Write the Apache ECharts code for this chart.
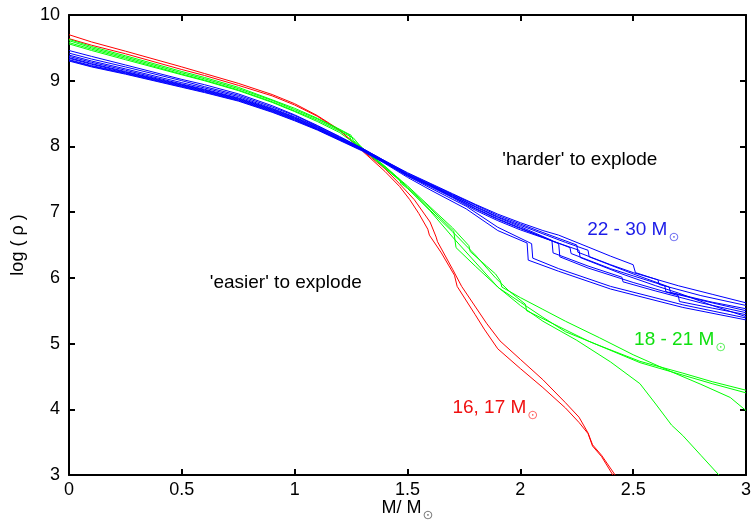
<!DOCTYPE html>
<html><head><meta charset="utf-8">
<script src="https://cdn.jsdelivr.net/npm/echarts@6/dist/echarts.min.js"></script>
<style>html,body{margin:0;padding:0;background:#fff}#c{width:754px;height:522px}</style>
</head><body><div id="c"></div>
<script>
// ---- data (M / Msun , log rho) ----
const red16 = [[0,9.70],[0.1,9.59],[0.25,9.45],[0.5,9.21],[0.6,9.11],[0.75,8.96],[0.9,8.79],[1.0,8.65],[1.1,8.47],[1.2,8.25],[1.3,7.93],[1.4,7.62],[1.465,7.39],[1.51,7.19],[1.55,6.98],[1.59,6.74],[1.597,6.65],[1.65,6.38],[1.708,6.04],[1.72,5.87],[1.8,5.44],[1.84,5.22],[1.9,4.92],[2.0,4.62],[2.1,4.33],[2.2,4.02],[2.26,3.80],[2.3,3.63],[2.32,3.44],[2.36,3.28],[2.41,3.0]];
const red17 = [[0,9.64],[0.1,9.54],[0.25,9.41],[0.5,9.17],[0.6,9.08],[0.75,8.93],[0.9,8.77],[1.0,8.63],[1.1,8.46],[1.2,8.24],[1.3,7.94],[1.4,7.66],[1.465,7.43],[1.53,7.19],[1.6,6.85],[1.627,6.62],[1.633,6.55],[1.70,6.13],[1.74,5.87],[1.85,5.31],[1.91,5.04],[2.0,4.76],[2.1,4.45],[2.2,4.10],[2.26,3.88],[2.3,3.64],[2.32,3.46],[2.36,3.30],[2.42,3.0]];

const green18 = [[0,9.56],[0.1,9.46],[0.25,9.32],[0.5,9.09],[0.6,9.00],[0.75,8.85],[0.9,8.67],[1.0,8.53],[1.1,8.38],[1.2,8.21],[1.3,7.96],[1.4,7.67],[1.465,7.48],[1.5,7.37],[1.6,7.02],[1.7,6.62],[1.8,6.24],[1.9,5.86],[2.0,5.58],[2.1,5.34],[2.25,5.05],[2.4,4.72],[2.53,4.39],[2.6,4.08],[2.67,3.76],[2.72,3.60],[2.8,3.30],[2.88,3.0]];
const green19 = [[0,9.63],[0.1,9.52],[0.25,9.38],[0.5,9.14],[0.6,9.05],[0.75,8.90],[0.9,8.71],[1.0,8.58],[1.1,8.43],[1.2,8.26],[1.25,8.17],[1.26,8.09],[1.3,7.98],[1.4,7.69],[1.465,7.50],[1.5,7.40],[1.6,7.08],[1.7,6.76],[1.772,6.49],[1.778,6.40],[1.85,6.18],[1.89,6.06],[1.912,5.95],[1.918,5.86],[2.0,5.70],[2.1,5.52],[2.2,5.34],[2.35,5.09],[2.5,4.83],[2.67,4.57],[2.8,4.38],[2.93,4.18],[3.0,3.98]];
const green20 = [[0,9.61],[0.1,9.50],[0.25,9.36],[0.5,9.12],[0.6,9.03],[0.75,8.88],[0.9,8.70],[1.0,8.56],[1.1,8.42],[1.2,8.25],[1.24,8.18],[1.25,8.10],[1.3,7.97],[1.4,7.68],[1.465,7.49],[1.5,7.38],[1.6,7.06],[1.705,6.71],[1.715,6.46],[1.8,6.18],[1.907,5.84],[2.0,5.63],[2.1,5.40],[2.2,5.18],[2.35,4.97],[2.53,4.73],[2.72,4.55],[2.85,4.42],[3.0,4.29]];
const green21 = [[0,9.58],[0.1,9.48],[0.25,9.34],[0.5,9.10],[0.6,9.01],[0.75,8.86],[0.9,8.68],[1.0,8.54],[1.1,8.40],[1.2,8.23],[1.26,8.13],[1.3,7.97],[1.4,7.70],[1.465,7.50],[1.47,7.44],[1.5,7.36],[1.6,7.03],[1.7,6.70],[1.8,6.35],[1.89,6.00],[1.95,5.80],[2.022,5.60],[2.028,5.50],[2.17,5.26],[2.3,5.04],[2.53,4.71],[2.72,4.52],[2.85,4.39],[3.0,4.25]];

const blue22 = [[0,9.46],[0.1,9.37],[0.25,9.24],[0.5,9.02],[0.6,8.94],[0.75,8.80],[0.9,8.62],[1.0,8.48],[1.1,8.32],[1.2,8.15],[1.3,7.97],[1.4,7.78],[1.5,7.60],[1.6,7.44],[1.7,7.28],[1.8,7.12],[1.9,6.97],[2.0,6.84],[2.1,6.72],[2.17,6.65],[2.3,6.47],[2.4,6.33],[2.5,6.20],[2.51,6.08],[2.6,5.98],[2.7,5.88],[2.85,5.75],[3.0,5.62]];
const blue23 = [[0,9.42],[0.1,9.33],[0.25,9.21],[0.5,9.00],[0.6,8.91],[0.75,8.78],[0.9,8.60],[1.0,8.47],[1.1,8.31],[1.2,8.14],[1.3,7.97],[1.4,7.78],[1.5,7.59],[1.6,7.43],[1.7,7.27],[1.8,7.11],[1.9,6.95],[2.0,6.82],[2.1,6.69],[2.25,6.50],[2.255,6.39],[2.4,6.20],[2.5,6.08],[2.61,5.97],[2.615,5.90],[2.8,5.73],[3.0,5.58]];
const blue24 = [[0,9.39],[0.1,9.30],[0.25,9.18],[0.5,8.97],[0.6,8.89],[0.75,8.76],[0.9,8.58],[1.0,8.45],[1.1,8.30],[1.2,8.13],[1.3,7.96],[1.4,7.77],[1.5,7.58],[1.6,7.42],[1.7,7.26],[1.8,7.09],[1.9,6.93],[2.0,6.80],[2.1,6.67],[2.2,6.54],[2.30,6.42],[2.305,6.32],[2.5,6.06],[2.66,5.86],[2.665,5.78],[2.85,5.63],[3.0,5.53]];
const blue25 = [[0,9.37],[0.1,9.28],[0.25,9.16],[0.5,8.95],[0.6,8.87],[0.75,8.74],[0.9,8.57],[1.0,8.44],[1.1,8.29],[1.2,8.12],[1.3,7.96],[1.4,7.77],[1.5,7.57],[1.6,7.41],[1.7,7.25],[1.8,7.08],[1.9,6.92],[2.0,6.78],[2.14,6.57],[2.145,6.38],[2.3,6.18],[2.45,6.01],[2.455,5.94],[2.6,5.80],[2.8,5.62],[3.0,5.47]];
const blue26 = [[0,9.35],[0.1,9.26],[0.25,9.14],[0.5,8.94],[0.6,8.86],[0.75,8.73],[0.9,8.56],[1.0,8.43],[1.1,8.28],[1.2,8.12],[1.3,7.95],[1.4,7.76],[1.5,7.57],[1.6,7.41],[1.7,7.24],[1.8,7.06],[1.9,6.90],[2.0,6.76],[2.17,6.52],[2.175,6.32],[2.3,6.15],[2.5,5.93],[2.7,5.73],[2.705,5.64],[2.85,5.54],[3.0,5.44]];
const blue27 = [[0,9.34],[0.1,9.25],[0.25,9.13],[0.5,8.93],[0.6,8.85],[0.75,8.72],[0.9,8.55],[1.0,8.42],[1.1,8.27],[1.2,8.11],[1.3,7.95],[1.4,7.76],[1.5,7.56],[1.6,7.40],[1.7,7.23],[1.8,7.05],[1.9,6.89],[2.0,6.75],[2.22,6.46],[2.225,6.37],[2.4,6.14],[2.5,6.03],[2.64,5.88],[2.645,5.79],[2.85,5.62],[3.0,5.50]];
const blue28 = [[0,9.32],[0.1,9.23],[0.25,9.12],[0.5,8.92],[0.6,8.84],[0.75,8.71],[0.9,8.54],[1.0,8.41],[1.1,8.26],[1.2,8.10],[1.3,7.94],[1.4,7.75],[1.5,7.55],[1.6,7.39],[1.7,7.22],[1.8,7.03],[1.9,6.87],[2.0,6.73],[2.26,6.42],[2.265,6.31],[2.45,6.06],[2.6,5.88],[2.7,5.77],[2.85,5.58],[3.0,5.41]];
const blue29 = [[0,9.31],[0.1,9.22],[0.25,9.11],[0.5,8.91],[0.6,8.83],[0.75,8.70],[0.9,8.53],[1.0,8.40],[1.1,8.26],[1.2,8.10],[1.3,7.94],[1.4,7.75],[1.5,7.55],[1.6,7.37],[1.76,7.09],[1.9,6.77],[2.05,6.52],[2.055,6.30],[2.17,6.14],[2.4,5.87],[2.72,5.59],[3.0,5.39]];
const blue30 = [[0,9.30],[0.1,9.21],[0.25,9.10],[0.5,8.90],[0.6,8.82],[0.75,8.69],[0.9,8.52],[1.0,8.39],[1.1,8.25],[1.2,8.09],[1.3,7.93],[1.4,7.74],[1.5,7.53],[1.6,7.34],[1.76,7.05],[1.9,6.72],[2.03,6.53],[2.035,6.27],[2.17,6.10],[2.4,5.83],[2.72,5.55],[3.0,5.36]];

const redSet = [red16, red17];
const greenSet = [green18, green19, green20, green21];
const blueSet = [blue22, blue23, blue24, blue25, blue26, blue27, blue28, blue29, blue30];

const annotations = [
  {text: "'harder' to explode", sub: '', x: 1.92, y: 7.79, color: '#000000', subColor: '#777777'},
  {text: "'easier' to explode", sub: '', x: 0.624, y: 5.92, color: '#000000', subColor: '#777777'},
  {text: '22 - 30 M', sub: '⊙', x: 2.296, y: 6.73, color: '#1c1ce8', subColor: '#6a6af0'},
  {text: '18 - 21 M', sub: '⊙', x: 2.504, y: 5.06, color: '#10e010', subColor: '#60f060'},
  {text: '16, 17 M', sub: '⊙', x: 1.699, y: 4.03, color: '#f01010', subColor: '#ff6a6a'}
];

// ---- chart ----
const FONT = 'Liberation Sans, Arial, Helvetica, sans-serif';
function mkLine(data, color) {
  return {type: 'line', data: data, symbol: 'none', showSymbol: false, silent: true,
    lineStyle: {color: color, width: 1}, clip: true, animation: false};
}
const series = [];
redSet.forEach(d => series.push(mkLine(d, '#ff0000')));
greenSet.forEach(d => series.push(mkLine(d, '#00ff00')));
blueSet.forEach(d => series.push(mkLine(d, '#0000ff')));

series.push({
  type: 'scatter', symbolSize: 0, silent: true, animation: false,
  data: annotations.map(a => ({
    value: [a.x, a.y],
    label: {
      show: true, position: 'right', distance: 0, opacity: 1,
      formatter: a.sub ? '{m|' + a.text + '}{s|' + a.sub + '}' : '{m|' + a.text + '}',
      rich: {
        m: {fontFamily: FONT, fontSize: 19, color: a.color, lineHeight: 22, verticalAlign: 'middle'},
        s: {fontFamily: 'DejaVu Sans', fontSize: 13, color: a.subColor, lineHeight: 13,
            verticalAlign: 'middle', padding: [16, 0, 0, 1]}
      }
    }
  }))
});

const axisCommon = {
  axisLine: {show: true, onZero: false, lineStyle: {color: '#000', width: 2}},
  axisTick: {show: true, inside: true, length: 6, lineStyle: {color: '#000', width: 2}},
  splitLine: {show: false}
};

const option = {
  animation: false,
  backgroundColor: '#fff',
  grid: {left: 69, right: 8, top: 15, bottom: 47, containLabel: false, outerBoundsMode: 'none'},
  xAxis: [
    Object.assign({type: 'value', min: 0, max: 3, interval: 0.5, position: 'bottom',
      name: '{m|M/ M}{s|⊙}', nameLocation: 'middle', nameGap: 22, nameMoveOverlap: false,
      nameTextStyle: {rich: {
        m: {fontFamily: FONT, fontSize: 18, color: '#000', lineHeight: 22, verticalAlign: 'middle'},
        s: {fontFamily: 'DejaVu Sans', fontSize: 13, color: '#777', lineHeight: 13, verticalAlign: 'middle', padding: [16, 0, 0, 1]}
      }},
      axisLabel: {show: true, fontFamily: FONT, fontSize: 18, color: '#000', margin: 6}}, axisCommon),
    Object.assign({type: 'value', min: 0, max: 3, interval: 0.5, position: 'top',
      axisLabel: {show: false}}, axisCommon)
  ],
  yAxis: [
    Object.assign({type: 'value', min: 3, max: 10, interval: 1, position: 'left',
      name: 'log ( ρ )', nameLocation: 'middle', nameGap: 42, nameMoveOverlap: false,
      nameTextStyle: {fontFamily: FONT, fontSize: 18, color: '#000'},
      axisLabel: {show: true, fontFamily: FONT, fontSize: 18, color: '#000', margin: 9}}, axisCommon),
    Object.assign({type: 'value', min: 3, max: 10, interval: 1, position: 'right',
      axisLabel: {show: false}}, axisCommon)
  ],
  series: series
};
const chart = echarts.init(document.getElementById('c'), null, {renderer: 'canvas'});
chart.setOption(option);
</script></body></html>
